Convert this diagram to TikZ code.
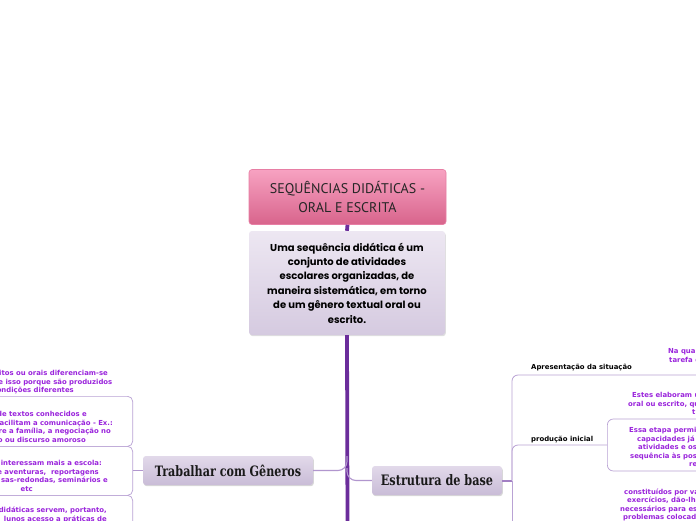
\documentclass[tikz,border=0pt]{standalone}
\usepackage{fontspec}
\usetikzlibrary{shadows}
\newfontfamily\titlefont{PT Sans}
\newfontfamily\descfont{Poppins}
\newfontfamily\slabfont[FakeStretch=0.78]{DejaVu Serif}
\newfontfamily\smallfont{DejaVu Sans}
\definecolor{trunk}{HTML}{6B2D9B}
\definecolor{branch}{HTML}{B9A2D4}
\definecolor{leaf}{HTML}{9A24DC}
\definecolor{pinkTop}{HTML}{F7A2C2}
\definecolor{pinkBot}{HTML}{D8648B}
\definecolor{pinkLine}{HTML}{E77EA4}
\definecolor{lavTop}{HTML}{EDE7F2}
\definecolor{lavBot}{HTML}{D5CAE0}
\definecolor{topTop}{HTML}{E2D9EA}
\definecolor{topBot}{HTML}{C9BCD7}
\tikzset{
  titlebox/.style={rectangle, rounded corners=3, draw=pinkLine, line width=0.6, top color=pinkTop, bottom color=pinkBot, minimum width=197, minimum height=55, align=center, inner sep=0, font=\titlefont\fontsize{14}{19.5}\selectfont, text=black!85},
  descbox/.style={rectangle, rounded corners=3, top color=lavTop, bottom color=lavBot, draw=none, drop shadow={opacity=0.25, shadow xshift=0.8pt, shadow yshift=-1.2pt}, minimum width=196, minimum height=104, align=center, inner sep=0, font=\descfont\bfseries\fontsize{10}{14.4}\selectfont, text=black},
  topicbox/.style={rectangle, rounded corners=3, top color=topTop, bottom color=topBot, draw=none, drop shadow={opacity=0.3, shadow xshift=0.8pt, shadow yshift=-1.2pt}, minimum height=29, inner sep=0, text=black!90},
  leafbox/.style={rectangle, rounded corners=5, draw=branch, line width=0.7, inner sep=0},
  trunkline/.style={draw=trunk, line width=3.8},
  conn/.style={draw=branch!90!trunk, line width=1.1},
  thickconn/.style={draw=branch!70!trunk, line width=2},
  branchline/.style={draw=branch, line width=0.8},
  small/.style={font=\smallfont\bfseries\fontsize{6.9}{8.7}\selectfont, inner sep=0, text=leaf},
  label/.style={font=\smallfont\bfseries\fontsize{6.9}{8.7}\selectfont, inner sep=0, text=black},
}
\begin{document}
\begin{tikzpicture}[x=1pt,y=-1pt]
\useasboundingbox (0,0) rectangle (696,520);
\fill[white] (0,0) rectangle (696,520);
\begin{scope}
\clip (0,0) rectangle (696,520);
% trunk
\coordinate (trunkend) at (347.5,524);
\node[titlebox] (title) at (347.5,197) {SEQUÊNCIAS DIDÁTICAS -\\ ORAL E ESCRITA};
\node[descbox] (desc) at (347,283) {Uma sequência didática é um\\ conjunto de atividades\\ escolares organizadas, de\\ maneira sistemática, em torno\\ de um gênero textual oral ou\\ escrito.};
\draw[trunkline] (title.south) -- (desc.north);
\draw[trunkline] (desc.south) -- (trunkend);

% topics
\node[topicbox, minimum width=170, font=\slabfont\bfseries\fontsize{14.3}{16}\selectfont] (trab) at (228,470.5) {Trabalhar com Gêneros};
\node[topicbox, minimum width=130, font=\slabfont\bfseries\fontsize{14.4}{16}\selectfont] (estr) at (437,480.5) {Estrutura de base};
\coordinate (j1) at (347,456);
\coordinate (j2) at (347,468);
\draw[conn, rounded corners=9] (trab.east) -| (j1);
\draw[conn, rounded corners=9] (j2) |- (estr.west);

% right branch
\coordinate (rb) at (512,480.5);
\coordinate (apEnd) at (700,375);
\coordinate (rdown) at (512,524);
\draw[thickconn] (estr.east) -- (rb);
\node[leafbox, anchor=west, minimum width=110, minimum height=52, rounded corners=6] (etapa) at (607,445) {};
\draw[branchline, rounded corners=6] (rb) |- (apEnd);
\draw[branchline, rounded corners=6] (rb) |- (etapa.west);
\draw[branchline] (rb) -- (rdown);

\node[label, anchor=base west] (ap) at (531,369) {Apresentação da situação};
\node[label, anchor=base west] (pi) at (531,441) {produção inicial};

\node[small, anchor=base west] (r1) at (668,353) {Na qua};
\node[small, anchor=base west] (r2) at (669,362) {tarefa d};
\node[small, anchor=base west] (r3) at (632,397) {Estes elaboram u};
\node[small, anchor=base west] (r4) at (628,406) {oral ou escrito, qu};
\node[small, anchor=base west] (r5) at (692,414.5) {t};
\node[small, anchor=base west] (r6) at (629,432) {Essa etapa permi};
\node[small, anchor=base west] (r7) at (637,441) {capacidades já};
\node[small, anchor=base west] (r8) at (638,449.5) {atividades e os};
\node[small, anchor=base west] (r9) at (630,458) {sequência às pos};
\node[small, anchor=base west] (r10) at (689,466.5) {rea};
\node[small, anchor=base west] (r11) at (624,494) {constituídos por va};
\node[small, anchor=base west] (r12) at (627,502.5) {exercícios, dão-lh};
\node[small, anchor=base west] (r13) at (620,511) {necessários para es};
\node[small, anchor=base west] (r14) at (623,519.5) {problemas colocad};

% left branch
\coordinate (lb) at (133,470.5);
\node[leafbox, anchor=north east, minimum width=170, minimum height=50] (box1) at (133,396) {};
\node[leafbox, anchor=north east, minimum width=170, minimum height=49] (box2) at (133,446) {};
\node[leafbox, anchor=north east, minimum width=170, minimum height=60] (box3) at (133,495) {};
\draw[conn] (trab.west) -- (lb);

\node[small, anchor=base east] (l1) at (108,375) {itos ou orais diferenciam-se};
\node[small, anchor=base east] (l2) at (112.5,384) {e isso porque são produzidos};
\node[small, anchor=base east] (l3) at (74,392.5) {ondições diferentes};
\node[small, anchor=base east] (l4) at (87,416) {de textos conhecidos e};
\node[small, anchor=base east] (l5) at (113,425) {acilitam a comunicação - Ex.:};
\node[small, anchor=base east] (l6) at (111,433.5) {re a família, a negociação no};
\node[small, anchor=base east] (l7) at (86,442) {o ou discurso amoroso};
\node[small, anchor=base east] (l8) at (102,465) {interessam mais a escola:};
\node[small, anchor=base east] (l9) at (99,474) {e aventuras,\ \ reportagens};
\node[small, anchor=base east] (l10) at (108,482.5) {sas-redondas, seminários e};
\node[small, anchor=base east] (l11) at (33,491) {etc};
\node[small, anchor=base east] (l12) at (107,512) {didáticas servem, portanto,};
\node[small, anchor=base east] (l13) at (107,521.5) {lunos acesso a práticas de};
\end{scope}
\end{tikzpicture}
\end{document}
